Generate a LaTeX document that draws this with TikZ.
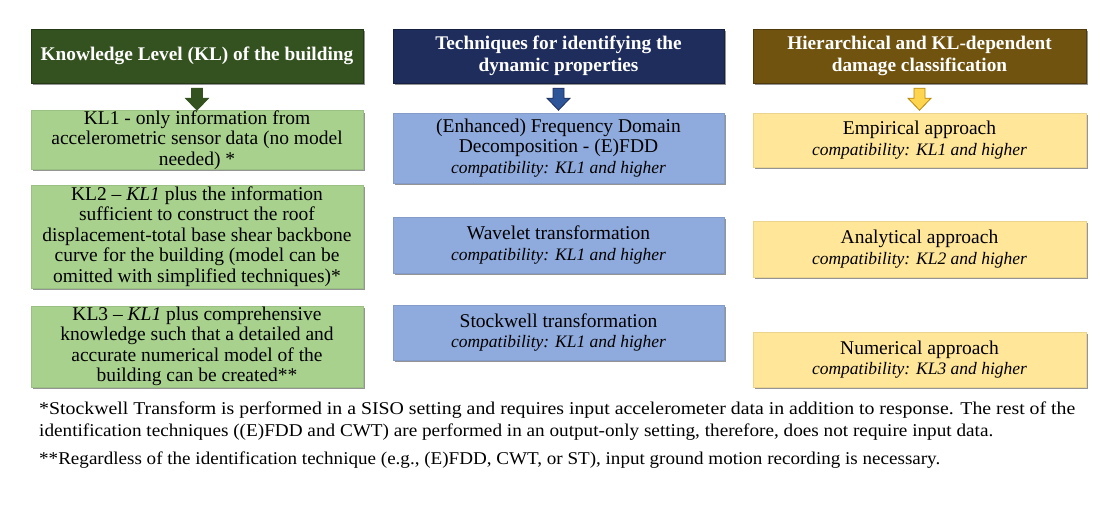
\documentclass[tikz,border=0pt]{standalone}
\usepackage{fontspec}
\setmainfont{Liberation Serif}
\usepackage{graphicx}
\usetikzlibrary{shadows}

\definecolor{klhead}{HTML}{34521F}
\definecolor{klfill}{HTML}{A9D18E}
\definecolor{idhead}{HTML}{1F2D5C}
\definecolor{idfill}{HTML}{8FAADC}
\definecolor{idarrow}{HTML}{2E5597}
\definecolor{dmhead}{HTML}{715310}
\definecolor{dmfill}{HTML}{FFE699}
\definecolor{dmarrow}{HTML}{FFD54F}
\definecolor{dmline}{HTML}{B8860B}

\newcommand{\compat}[1]{{\fontsize{17.5}{20.5}\selectfont\itshape compatibility: #1 and higher}}

\begin{document}
\begin{tikzpicture}[
		x=1pt,y=-1pt,
		every node/.style={inner sep=0pt,align=center},
		shade/.style={drop shadow={shadow xshift=1.5pt,shadow yshift=-2pt,fill=black!60,opacity=.7}},
		head/.style={shade,fill=#1,draw=#1!70!black,text=white,minimum height=54pt,
			font=\bfseries\fontsize{19.3}{22}\selectfont},
		box/.style={shade,fill=#1,draw=#1!92!black,font=\fontsize{19.5}{20.5}\selectfont},
		note/.style={anchor=west,font=\fontsize{18}{20}\selectfont}
		]
		% headers
		\node[head=klhead,minimum width=332pt] (hKL) at (197,56) {Knowledge Level (KL) of the building};
		\node[head=idhead,minimum width=331pt] (hID) at (558.5,56) {Techniques for identifying the\\dynamic properties};
		\node[head=dmhead,minimum width=333pt] (hDM) at (919.5,56) {Hierarchical and KL-dependent\\damage classification};
		
		% knowledge levels
		\node[box=klfill,minimum width=332pt,minimum height=54pt] (kl1) at (197,140)
		{KL1 - only information from\\accelerometric sensor data (no model\\needed) *};
		\node[box=klfill,minimum width=332pt,minimum height=103pt] (kl2) at (197,236.5)
		{KL2 -- \textit{KL1} plus the information\\sufficient to construct the roof\\displacement-total base shear backbone\\curve for the building (model can be\\omitted with simplified techniques)*};
		\node[box=klfill,minimum width=332pt,minimum height=81pt] (kl3) at (197,346.5)
		{KL3 -- \textit{KL1} plus comprehensive\\knowledge such that a detailed and\\accurate numerical model of the\\building can be created**};
		
		% identification techniques
		\node[box=idfill,minimum width=331pt,minimum height=70pt] (efdd) at (558.5,148)
		{(Enhanced) Frequency Domain\\Decomposition - (E)FDD\\\compat{KL1}};
		\node[box=idfill,minimum width=331pt,minimum height=56pt] (cwt) at (558.5,245)
		{Wavelet transformation\\\compat{KL1}};
		\node[box=idfill,minimum width=331pt,minimum height=55pt] (st) at (558.5,332.5)
		{Stockwell transformation\\\compat{KL1}};
		
		% damage classification
		\node[box=dmfill,minimum width=333pt,minimum height=54pt] (emp) at (919.5,140)
		{Empirical approach\\\compat{KL1}};
		\node[box=dmfill,minimum width=333pt,minimum height=56pt] (ana) at (919.5,249)
		{Analytical approach\\\compat{KL2}};
		\node[box=dmfill,minimum width=333pt,minimum height=55pt] (num) at (919.5,359.5)
		{Numerical approach\\\compat{KL3}};
		
		% block arrows below the headers
		\foreach \h/\f/\d in {hKL/klhead/klhead, hID/idarrow/idhead, hDM/dmarrow/dmline}
		\filldraw[fill=\f,draw=\d,line width=.8pt,line join=miter] (\h.south) ++(-5.5,5) -- ++(11,0) -- ++(0,10)
		-- ++(6,0) -- ++(-11.5,12) -- ++(-11.5,-12) -- ++(6,0) -- cycle;
		
		% footnotes
		\node[note] (fn1) at (39,410) {\resizebox{1036pt}{\height}{*Stockwell Transform is performed in a SISO setting and requires input accelerometer data in addition to response. The rest of the}};
		\node[note] (fn2) at (39,432) {\resizebox{954pt}{\height}{identification techniques ((E)FDD and CWT) are performed in an output-only setting, therefore, does not require input data.}};
		\node[note] (fn3) at (39,460) {\resizebox{901pt}{\height}{**Regardless of the identification technique (e.g., (E)FDD, CWT, or ST), input ground motion recording is necessary.}};
		
		\useasboundingbox (0,0) rectangle (1118,504);
		\end{tikzpicture}
\end{document}
